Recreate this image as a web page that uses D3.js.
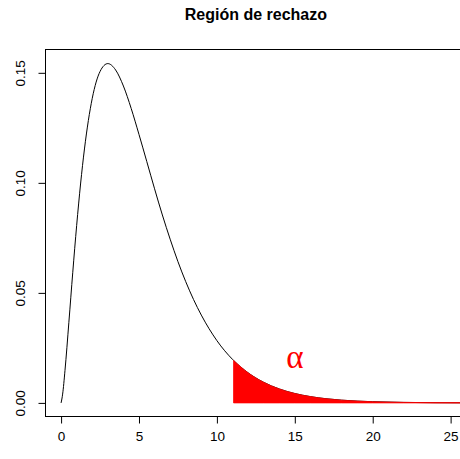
<!DOCTYPE html>
<html>
<head>
<meta charset="utf-8">
<script src="https://cdn.jsdelivr.net/npm/d3@7"></script>
<style>
  html, body { margin: 0; padding: 0; background: #fff; }
  svg { display: block; font-family: "Liberation Sans", Arial, Helvetica, sans-serif; }
</style>
</head>
<body>
<svg id="chart" width="460" height="459"></svg>
<script>
// Density curve of the test statistic (sampled points)
const xs = [0, 0.1, 0.25, 0.5, 0.75, 1, 1.25, 1.5, 1.75, 2, 2.5, 3, 3.5, 4, 4.5, 5, 5.5, 6, 6.5, 7, 7.5, 8, 8.5, 9, 9.5, 10, 11, 11.07, 12, 13, 14, 15, 16, 17, 18, 19, 20, 22, 24, 26];
const ys = [0, 0.0040, 0.01467, 0.03662, 0.05936, 0.08066, 0.09948, 0.1154, 0.1283, 0.1384, 0.1506, 0.1542, 0.1513, 0.1440, 0.1338, 0.1220, 0.1097, 0.0973, 0.0854, 0.0744, 0.0642, 0.0551, 0.0470, 0.0399, 0.0337, 0.0283, 0.0198, 0.0193, 0.0137, 0.00937, 0.00635, 0.00427, 0.00286, 0.00190, 0.00125, 0.000824, 0.000540, 0.000229, 0.000096, 0.000040];
// Critical value where the rejection region starts
const criticalValue = 11.07;
const xTicks = [0, 5, 10, 15, 20, 25];
const yTicks = [0, 0.05, 0.10, 0.15];
const yTickLabels = ["0.00", "0.05", "0.10", "0.15"];
const title = "Región de rechazo";
const alphaLabel = { x: 15, y: 0.02, text: "α" };

const svg = d3.select("#chart");
const x = d3.scaleLinear().domain([-1, 26]).range([45.5, 466.2]);
const y = d3.scaleLinear().domain([-0.00618, 0.1606]).range([416.5, 49.5]);

const pts = xs.map((v, i) => ({ x: v, y: ys[i] }));

svg.append("defs").append("clipPath").attr("id", "plotClip")
  .append("rect")
  .attr("x", x(-1)).attr("y", y(0.1606))
  .attr("width", x(26) - x(-1)).attr("height", y(-0.00618) - y(0.1606));

const plot = svg.append("g").attr("clip-path", "url(#plotClip)");

const line = d3.line().x(d => x(d.x)).y(d => y(d.y)).curve(d3.curveMonotoneX);
plot.append("path")
  .datum(pts)
  .attr("d", line)
  .attr("fill", "none")
  .attr("stroke", "#000")
  .attr("stroke-width", 1);

// Shaded rejection region
const tail = pts.filter(d => d.x >= criticalValue);
const area = d3.area().x(d => x(d.x)).y0(y(0)).y1(d => y(d.y)).curve(d3.curveMonotoneX);
plot.append("path")
  .datum(tail)
  .attr("d", area)
  .attr("fill", "#ff0000")
  .attr("stroke", "#ff0000")
  .attr("stroke-width", 0.8);

plot.append("text")
  .attr("x", x(alphaLabel.x))
  .attr("y", y(alphaLabel.y) + 9)
  .attr("text-anchor", "middle")
  .attr("fill", "#ff0000")
  .attr("font-family", "Liberation Serif, 'Times New Roman', serif")
  .attr("font-size", "33px")
  .text(alphaLabel.text);

// Plot frame
svg.append("rect")
  .attr("x", x(-1)).attr("y", y(0.1606))
  .attr("width", x(26) - x(-1)).attr("height", y(-0.00618) - y(0.1606))
  .attr("fill", "none").attr("stroke", "#000").attr("stroke-width", 1);

// X axis
const xAxis = d3.axisBottom(x).tickValues(xTicks).tickSize(7).tickPadding(8).tickFormat(d3.format("d"));
const gx = svg.append("g").attr("transform", `translate(0,${y(-0.00618)})`).call(xAxis);
gx.select(".domain").remove();
gx.selectAll("text").attr("font-size", "13.5px").attr("fill", "#000").attr("font-family", "Liberation Sans, Arial, sans-serif");
gx.selectAll("line").attr("stroke", "#000");

// Y axis with rotated labels
const yAxis = d3.axisLeft(y).tickValues(yTicks).tickSize(7).tickFormat((d, i) => yTickLabels[i]);
const gy = svg.append("g").attr("transform", `translate(${x(-1)},0)`).call(yAxis);
gy.select(".domain").remove();
gy.selectAll("line").attr("stroke", "#000");
gy.selectAll("text")
  .attr("x", null).attr("dy", null)
  .attr("text-anchor", "middle")
  .attr("transform", "translate(-20.5,0) rotate(-90)")
  .attr("font-size", "13.5px").attr("fill", "#000")
  .attr("font-family", "Liberation Sans, Arial, sans-serif");

svg.append("text")
  .attr("x", (x(-1) + x(26)) / 2)
  .attr("y", 20)
  .attr("text-anchor", "middle")
  .attr("font-weight", "bold")
  .attr("font-size", "16px")
  .attr("fill", "#000")
  .text(title);
</script>
</body>
</html>
